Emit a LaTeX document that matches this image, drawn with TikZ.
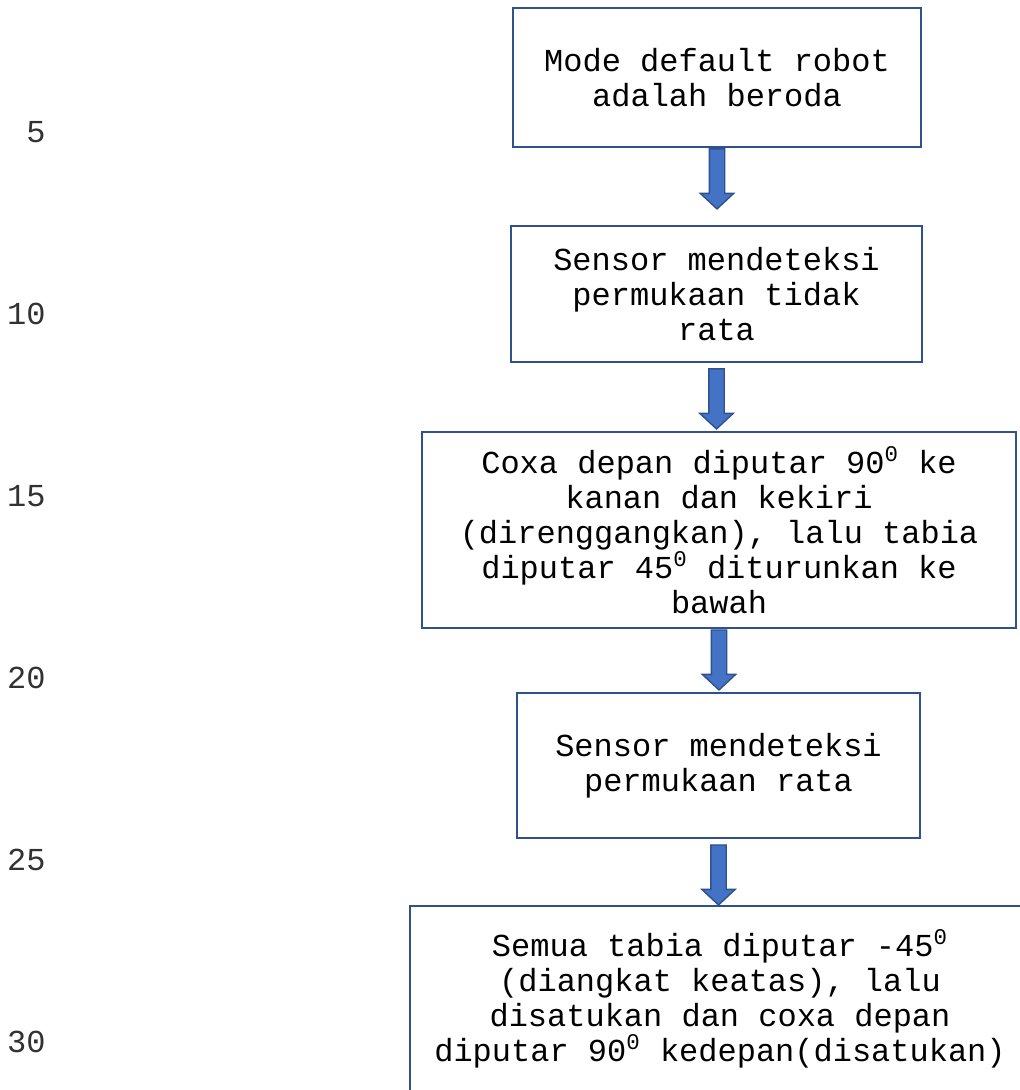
\documentclass[tikz,border=0pt]{standalone}
\usepackage{fontspec}
\setmainfont{Liberation Mono}
\usetikzlibrary{shapes.arrows}
\definecolor{boxblue}{RGB}{47, 82, 143}
\definecolor{arrowblue}{RGB}{68, 114, 196}
\definecolor{numgray}{RGB}{50, 50, 50}

\begin{document}
\begin{tikzpicture}[x=0.5pt, y=-0.5pt,
    every node/.style={font=\fontsize{16}{17.5}\selectfont},
    stepbox/.style={draw=boxblue, fill=white, line width=1.25pt, align=center, inner sep=0pt},
    downarrow/.style={single arrow, draw=boxblue, fill=arrowblue, line width=0.7pt, rotate=-90,
        minimum height=30pt, minimum width=16pt, single arrow head extend=4.5pt,
        single arrow tip angle=94, inner xsep=0pt, inner ysep=3.5pt, anchor=tail},
    linenum/.style={anchor=east, inner sep=0pt, text=numgray}]
            \useasboundingbox (0,0) rectangle (1019,1090);
            \fill[white] (0,0) rectangle (1019,1090);
            % flow steps
            \node[stepbox, minimum width=204pt,   minimum height=69.5pt] (mode)      at (717, 77.5)   {Mode default robot\\adalah beroda};
            \node[stepbox, minimum width=205.5pt, minimum height=68pt]   (tidakrata) at (716.5, 294)  {Sensor mendeteksi\\permukaan tidak\\rata};
            \node[stepbox, minimum width=297pt,   minimum height=98pt]   (coxa)      at (719, 530)    {Coxa depan diputar 90\textsuperscript{0} ke\\kanan dan kekiri\\(direnggangkan), lalu tabia\\diputar 45\textsuperscript{0} diturunkan ke\\bawah};
            \node[stepbox, minimum width=201.5pt, minimum height=72.5pt] (rata)      at (718.5, 765.5){Sensor mendeteksi\\permukaan rata};
            \node[stepbox, minimum width=310pt,   minimum height=93pt]   (tabia)     at (720, 999)    {Semua tabia diputar -45\textsuperscript{0}\\(diangkat keatas), lalu\\disatukan dan coxa depan\\diputar 90\textsuperscript{0} kedepan(disatukan)};
            % block arrows
            \node[downarrow] (a1) at (mode.south) {};
            \node[downarrow] (a2) at ([yshift=-2.5pt]tidakrata.south) {};
            \node[downarrow] (a3) at (coxa.south) {};
            \node[downarrow] (a4) at ([yshift=-2.5pt]rata.south) {};
            % line numbers
            \foreach \n [evaluate=\n as \lbl using int(5*\n)] in {1,...,6}
                \node[linenum] (num\n) at (46, {132.5+181.9*(\n-1)}) {\lbl};
        \end{tikzpicture}
\end{document}
